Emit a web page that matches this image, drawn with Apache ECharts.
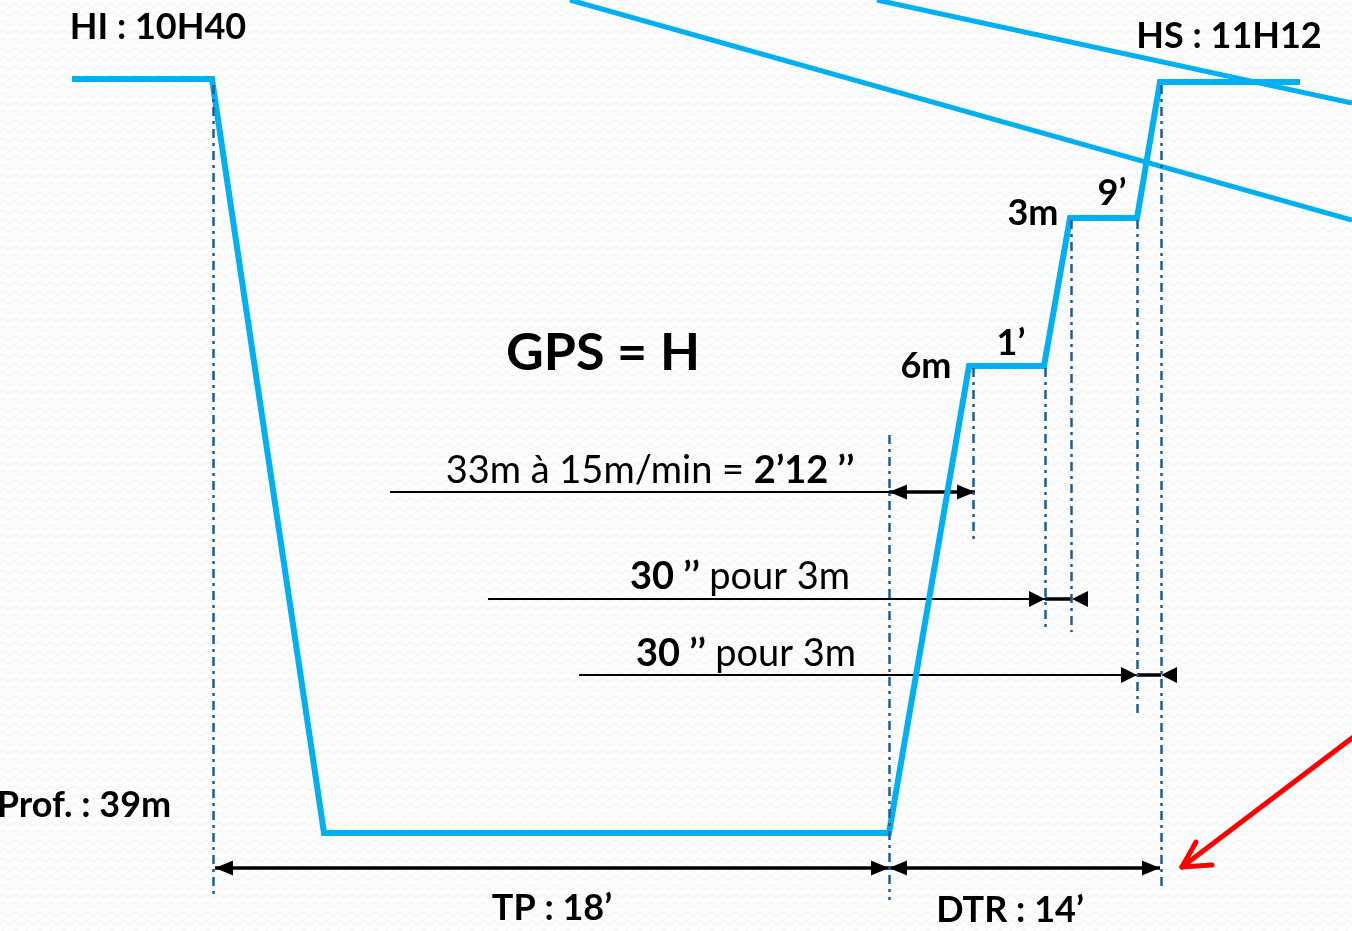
<!DOCTYPE html>
<html><head><meta charset="utf-8">
<script src="https://cdn.jsdelivr.net/npm/echarts@6/dist/echarts.min.js"></script>
<style>html,body{margin:0;padding:0;background:#fff}#c{width:1352px;height:931px}</style>
</head><body><div id="c"></div><script>
// ---- Data (schematic diagram units: time → right, depth → down) ----
const profileTime  = [72, 212, 324, 889, 969, 1044, 1070, 1137, 1160, 1300];
const profileDepth = [79, 79, 833, 833, 366, 366, 218, 218, 82, 82];

// vertical reference (dash-dot) markers
const markerTime = [213, 889, 973, 1045, 1071, 1137, 1161];
const markerTop  = [85, 435, 368, 368, 220, 220, 85];
const markerBot  = [895, 900, 542, 632, 632, 715, 890];

// decorative crossing lines (top right)
const crossA = [[570, 0], [1352, 220]];
const crossB = [[877, 0], [1352, 103]];

// red pointer arrow
const redShaft = [[1352, 738], [1182, 867]];
const redWingA = [[1182, 867], [1196, 842]];
const redWingB = [[1182, 867], [1212, 865]];

// dimension lines
const thickLines = [
  [[215, 868], [889, 868]],   // TP
  [[889, 868], [1160, 868]],  // DTR
  [[889, 492], [975, 492]],   // 33m ascent
  [[1045, 599], [1072, 599]], // 6m→3m
  [[1137, 675], [1161, 675]]  // 3m→surface
];
const thinLines = [
  [[390, 492], [889, 492]],
  [[488, 599], [1045, 599]],
  [[579, 675], [1137, 675]]
];
// arrowheads: tip position, direction (1 = right, -1 = left), large?
const headTipX = [215, 889, 889, 1160, 889, 975, 1045, 1072, 1137, 1161];
const headTipY = [868, 868, 868, 868, 492, 492, 599, 599, 675, 675];
const headDir  = [-1, 1, -1, 1, -1, 1, 1, -1, 1, -1];
const headBig  = [1, 1, 1, 1, 1, 1, 0, 0, 0, 0];

// labels: [text, x, y]
const labelsBold = [
  ['HI : 10H40', 158, 27],
  ['HS : 11H12', 1229, 36],
  ['3m', 1033, 213],
  ['9’', 1112, 193],
  ['1’', 1011, 343],
  ['6m', 926, 366],
  ['Prof. : 39m', 84, 805],
  ['TP : 18’', 552, 908],
  ['DTR : 14’', 1010, 910]
];

// ---- Chart ----
const BLUE = '#00b0f0';
const DARK = '#1f5c99';
const FONT = 'Lato, "Open Sans", sans-serif';

function bg() {
  const cv = document.createElement('canvas');
  cv.width = 12; cv.height = 9;
  const g = cv.getContext('2d');
  g.fillStyle = '#fdfdfd'; g.fillRect(0, 0, 12, 9);
  g.strokeStyle = '#efefef'; g.lineWidth = 1;
  g.beginPath(); g.moveTo(0, 5);
  g.quadraticCurveTo(3, 1, 6, 5); g.quadraticCurveTo(9, 9, 12, 5);
  g.stroke();
  return cv;
}

const chart = echarts.init(document.getElementById('c'), null, {renderer: 'canvas'});

const toLines = arr => arr.map(c => ({coords: c}));
const rich = {r: {font: '38px ' + FONT, fill: '#000'}, b: {font: 'bold 38px ' + FONT, fill: '#000'}};

const heads = headTipX.map((x, i) => {
  const len = headBig[i] ? 18 : 16;
  const wid = headBig[i] ? 15 : 16;
  return {
    value: [x - headDir[i] * len / 2, headTipY[i]],
    symbolSize: [wid, len],
    symbolRotate: headDir[i] > 0 ? -90 : 90
  };
});

const option = {
  animation: false,
  backgroundColor: {image: bg(), repeat: 'repeat'},
  grid: {left: 0, right: 0, top: 0, bottom: 0},
  xAxis: {type: 'value', min: 0, max: 1352, show: false},
  yAxis: {type: 'value', min: 0, max: 931, inverse: true, show: false},
  series: [
    {type: 'line', data: crossA, showSymbol: false, symbol: 'none', z: 2,
     lineStyle: {color: BLUE, width: 5}},
    {type: 'line', data: crossB, showSymbol: false, symbol: 'none', z: 2,
     lineStyle: {color: BLUE, width: 5}},
    {type: 'lines', coordinateSystem: 'cartesian2d', z: 3, symbol: 'none',
     data: toLines(thinLines), lineStyle: {color: '#000', width: 2, opacity: 1}},
    {type: 'lines', coordinateSystem: 'cartesian2d', z: 3, symbol: 'none',
     data: toLines(thickLines), lineStyle: {color: '#000', width: 3.5, opacity: 1}},
    {type: 'scatter', z: 3, symbol: 'triangle', data: heads,
     itemStyle: {color: '#000', opacity: 1}, silent: true},
    {type: 'line', name: 'profile', z: 4, showSymbol: false, symbol: 'none',
     data: profileTime.map((t, i) => [t, profileDepth[i]]),
     lineStyle: {color: BLUE, width: 6, join: 'miter'}},
    {type: 'lines', coordinateSystem: 'cartesian2d', z: 5, symbol: 'none',
     data: markerTime.map((t, i) => ({coords: [[t, markerTop[i]], [t, markerBot[i]]]})),
     lineStyle: {color: DARK, width: 2.5, type: [9, 5, 3, 5], opacity: 1}},
    {type: 'lines', coordinateSystem: 'cartesian2d', z: 6, symbol: 'none',
     data: toLines([redShaft, redWingA, redWingB]),
     lineStyle: {color: '#ff0000', width: 5, cap: 'round', opacity: 1}}
  ],
  graphic: [
    ...labelsBold.map(([t, x, y]) => ({
      type: 'text', z: 100,
      style: {text: t, x, y, fill: '#000', font: 'bold 36px ' + FONT,
              textAlign: 'center', textVerticalAlign: 'middle'}
    })),
    {type: 'text', z: 100,
     style: {text: 'GPS = H', x: 603, y: 353, fill: '#000', font: 'bold 52px ' + FONT,
             textAlign: 'center', textVerticalAlign: 'middle'}},
    {type: 'text', z: 100,
     style: {text: '{r|33m à 15m/min = }{b|2’12 ’’}', x: 650, y: 471,
             textAlign: 'center', textVerticalAlign: 'middle', rich}},
    {type: 'text', z: 100,
     style: {text: '{b|30 ’’ }{r|pour 3m}', x: 740, y: 577,
             textAlign: 'center', textVerticalAlign: 'middle', rich}},
    {type: 'text', z: 100,
     style: {text: '{b|30 ’’ }{r|pour 3m}', x: 746, y: 654,
             textAlign: 'center', textVerticalAlign: 'middle', rich}}
  ]
};
chart.setOption(option);
</script></body></html>
